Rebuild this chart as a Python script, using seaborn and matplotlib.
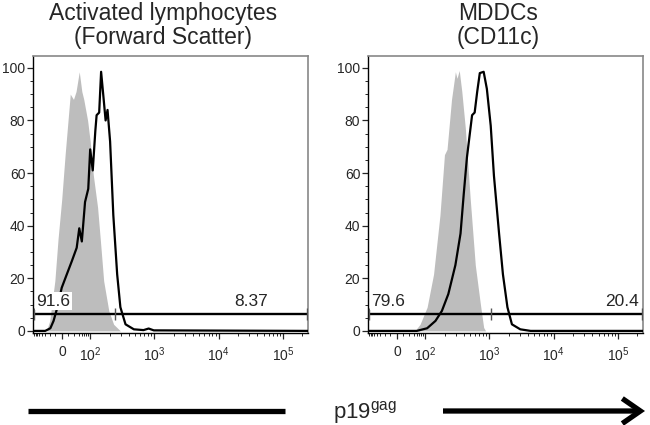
import numpy as np
import pandas as pd
import matplotlib
matplotlib.use('Agg')
import matplotlib.pyplot as plt
import seaborn as sns
from matplotlib.patches import FancyArrowPatch
from matplotlib.lines import Line2D

# x in display decades (logicle-like axis, 2 = 10^2), y = % of max
lymph_ctrl_x = [1.32, 1.37, 1.45, 1.50, 1.557, 1.61, 1.69, 1.74, 1.78, 1.83, 1.87, 1.90,
                1.96, 2.00, 2.05, 2.115, 2.16, 2.21, 2.29, 2.365, 2.47]
lymph_ctrl_y = [0, 3.8, 19, 35, 50, 67, 90, 88, 91, 98.5, 91, 88,
                80, 72, 59, 47, 34, 19, 7.6, 2.5, 0]

lymph_gag_x = [1.11, 1.30, 1.38, 1.43, 1.49, 1.557, 1.636, 1.714, 1.79, 1.83, 1.87, 1.92,
               1.97, 2.00, 2.04, 2.08, 2.10, 2.14, 2.17, 2.21, 2.24, 2.27, 2.31, 2.36,
               2.42, 2.47, 2.55, 2.68, 2.83, 2.91, 2.99, 5.39]
lymph_gag_y = [0, 0, 1.0, 3.8, 9, 16.4, 21.5, 26.5, 31.6, 39, 34, 49,
               54, 69, 61, 76, 82, 83, 98.5, 88, 80, 84, 72, 44,
               21.5, 9, 2.5, 0.6, 0.3, 0.9, 0.2, 0]

mddc_ctrl_x = [1.84, 1.92, 2.03, 2.13, 2.23, 2.30, 2.34, 2.41, 2.47, 2.495, 2.53, 2.57,
               2.625, 2.70, 2.78, 2.86, 2.91, 2.94]
mddc_ctrl_y = [0, 2.5, 9, 21.5, 44, 67, 69, 88, 98.5, 96, 99, 91,
               77, 50.5, 25, 10, 1.3, 0]

mddc_gag_x = [1.11, 1.87, 2.03, 2.16, 2.26, 2.36, 2.47, 2.55, 2.60, 2.65, 2.69, 2.73,
              2.77, 2.81, 2.85, 2.91, 2.96, 3.02, 3.07, 3.15, 3.21, 3.28, 3.35, 3.48,
              3.64, 5.39]
mddc_gag_y = [0, 0, 1.0, 3.8, 7.6, 14, 25, 37, 52, 66, 74, 82,
              83, 91, 98, 98.5, 92, 78, 59, 37, 21.5, 9, 2.5, 0.6,
              0, 0]

titles = ["Activated lymphocytes\n(Forward Scatter)", "MDDCs\n(CD11c)"]
gate_split = [2.39, 3.03]
gate_neg = ["91.6", "79.6"]
gate_pos = ["8.37", "20.4"]

xtick_pos = [1.56, 2, 3, 4, 5]
xtick_labels = ["0", "$10^2$", "$10^3$", "$10^4$", "$10^5$"]

sns.set_style("ticks")
plt.rcParams['font.family'] = ['Liberation Sans', 'DejaVu Sans']
plt.rcParams['mathtext.default'] = 'regular'

fig = plt.figure(figsize=(6.5, 4.25), dpi=100)
W, H = 650, 425

panels = [
    (33, lymph_ctrl_x, lymph_ctrl_y, lymph_gag_x, lymph_gag_y),
    (368, mddc_ctrl_x, mddc_ctrl_y, mddc_gag_x, mddc_gag_y),
]

minor_x = [1.13, 1.15, 1.18, 1.21, 1.25, 1.30, 1.37, 1.46,
           1.66, 1.75, 1.82, 1.87, 1.91, 1.94, 1.97]
for d in [2, 3, 4]:
    minor_x += [d + np.log10(k) for k in range(2, 10)]
minor_x += [5 + np.log10(2)]

GATE_Y = 6.4
for i, (left, cx, cy, gx, gy) in enumerate(panels):
    ax = fig.add_axes([left / W, 1 - 333 / H, 275 / W, 277 / H])
    ctrl = pd.DataFrame({"x": cx, "y": cy})
    gag = pd.DataFrame({"x": gx, "y": gy})
    ax.fill_between(ctrl["x"], ctrl["y"], color="#bdbdbd", lw=0, zorder=1)
    sns.lineplot(data=gag, x="x", y="y", ax=ax, color="black", lw=1.6,
                 sort=False, estimator=None, zorder=3)

    x0, x1 = 1.11, 5.39
    ax.set_xlim(x0, x1)
    ax.set_ylim(-0.8, 104.5)

    # gate
    ax.hlines(GATE_Y, x0 + 0.01, x1 - 0.01, color="black", lw=1.7, zorder=4)
    ax.vlines([x0 + 0.01, gate_split[i], x1 - 0.01], GATE_Y - 2.4, GATE_Y + 2.4,
              color="#555555", lw=1.0, zorder=4)
    ax.text(x0 + 0.05, GATE_Y + 2.0, gate_neg[i], fontsize=12.5, ha="left", va="bottom",
            zorder=5, bbox=dict(facecolor="white", edgecolor="none", pad=1.0))
    ax.text(x1 - 0.06 if i else 4.77, GATE_Y + 2.0, gate_pos[i], fontsize=12.5,
            ha="right", va="bottom", zorder=5)

    ax.set_xticks(xtick_pos)
    ax.set_xticklabels(xtick_labels, fontsize=10)
    ax.set_xticks(minor_x, minor=True)
    ax.set_yticks([0, 20, 40, 60, 80, 100])
    ax.set_yticks(np.arange(5, 100, 5), minor=True)
    ax.tick_params(axis="y", labelsize=10, length=4, width=0.9, pad=1.5)
    ax.tick_params(axis="x", length=4, width=0.9, pad=5)
    ax.tick_params(which="minor", length=2.2, width=0.7)
    ax.set_xlabel("")
    ax.set_ylabel("")
    for s in ["top", "right"]:
        ax.spines[s].set_visible(True)
        ax.spines[s].set_color("#888888")
        ax.spines[s].set_linewidth(1.2)
    for s in ["left", "bottom"]:
        ax.spines[s].set_color("black")
        ax.spines[s].set_linewidth(1.0)

    cx_title = (left + 130) / W
    fig.text(cx_title, 1 - 2 / H, titles[i], ha="center", va="top", fontsize=16.5,
             linespacing=1.05)

# bottom axis-direction arrow
ya = 1 - 411 / H
fig.add_artist(Line2D([28 / W, 285 / W], [ya, ya], color="black", lw=3.8,
                      solid_capstyle="butt", transform=fig.transFigure))
fig.add_artist(FancyArrowPatch((443 / W, ya), (645 / W, ya), transform=fig.transFigure,
                               arrowstyle="->,head_length=13,head_width=9",
                               color="black", lw=3.8, capstyle="butt",
                               joinstyle="miter", shrinkA=0, shrinkB=0,
                               mutation_scale=1))
fig.text(333 / W, 1 - 418 / H, r"p19$^{gag}$", fontsize=16, ha="left", va="baseline")

fig.savefig("out.png", dpi=100)
